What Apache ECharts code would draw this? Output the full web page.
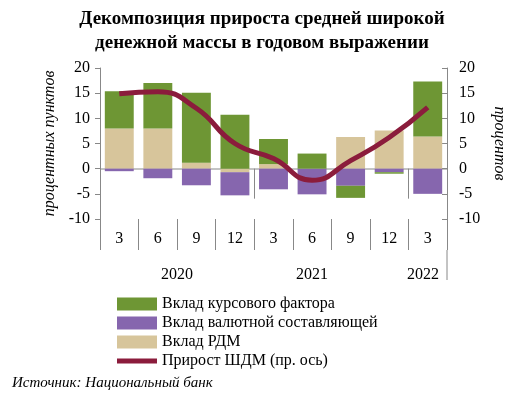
<!DOCTYPE html><html><head><meta charset="utf-8"><script src="https://cdn.jsdelivr.net/npm/echarts@6/dist/echarts.min.js"></script></head><body style="margin:0"><div id="c" style="width:524px;height:404px"></div><script>
const categories=['3','6','9','12','3','6','9','12','3'];
const years=['2020','2021','2022'];
const rdm=[8,8,1.2,-0.7,0.9,0,6.3,7.6,6.4];
const fx=[-0.5,-1.9,-3.3,-4.6,-4.1,-5.1,-3.4,-0.7,-5.0];
const rate=[7.4,9,13.9,10.7,5.0,3,-2.4,-0.3,10.9];
const shdm=[14.9,15.3,12,5,2,-2.3,1.6,6.2,12.2];
const F='Liberation Serif';
const ch=echarts.init(document.getElementById('c'));
const yax=(pos,name)=>({type:'value',position:pos,min:-10,max:20,interval:5,name:name,nameLocation:'middle',nameGap:pos==='left'?40:44,nameRotate:pos==='left'?90:-90,
 nameTextStyle:{fontFamily:F,fontStyle:'italic',fontSize:16,color:'#000'},
 axisLine:{show:true,lineStyle:{color:'#888'}},axisTick:{show:true,inside:pos==='right',length:5,lineStyle:{color:'#888'}},splitLine:{show:false},
 axisLabel:{fontFamily:F,fontSize:16,color:'#000',margin:pos==='left'?10:12}});
ch.setOption({animation:false,
 title:{text:'Декомпозиция прироста средней широкой\nденежной массы в годовом выражении',left:'center',top:2,textStyle:{fontFamily:F,fontWeight:'bold',fontSize:19,lineHeight:24,color:'#000'}},
 grid:{left:100,right:77,top:68,bottom:185},
 legend:{orient:'vertical',left:112,top:291,itemGap:3,itemWidth:40,itemHeight:13,textStyle:{fontFamily:F,fontSize:16,color:'#000'},
  data:[{name:'Вклад курсового фактора',icon:'rect'},{name:'Вклад валютной составляющей',icon:'rect'},{name:'Вклад РДМ',icon:'rect'},{name:'Прирост ШДМ (пр. ось)',icon:'path://M0,4H40V9H0Z',itemStyle:{color:'#8b1c3c'}}]},
 xAxis:[{type:'category',data:categories,position:'bottom',axisLine:{onZero:false,show:false},axisTick:{show:true,length:31,lineStyle:{color:'#888'}},
   axisLabel:{fontFamily:F,fontSize:16,color:'#000',margin:12}},
  {type:'category',data:categories,position:'bottom',offset:31,axisLine:{show:false},axisLabel:{show:false},
   axisTick:{show:true,length:30,interval:(i)=>i===0||i===4||i===8,lineStyle:{color:'#888'}}},
  {type:'category',data:categories,position:'top',show:false}],
 yAxis:[yax('left','процентных пунктов'),yax('right','процентов')],
 graphic:[{type:'line',shape:{x1:100,y1:169,x2:447,y2:169},style:{stroke:'#888',lineWidth:1}},
  {type:'line',shape:{x1:447,y1:250,x2:447,y2:280},style:{stroke:'#888',lineWidth:1}},
  {type:'text',left:12,top:376,style:{text:'Источник: Национальный банк',font:'italic 15px "Liberation Serif"',fill:'#000'}},
  ...years.map((t,i)=>({type:'text',x:[177,312,423][i],y:275,style:{text:t,font:'16px "Liberation Serif"',fill:'#000',textAlign:'center',textVerticalAlign:'middle'}}))],
 series:[
  {name:'Вклад РДМ',type:'bar',stack:'a',data:rdm,barWidth:'75%',itemStyle:{color:'#d7c59b'}},
  {name:'Вклад валютной составляющей',type:'bar',stack:'a',data:fx,itemStyle:{color:'#8666ae'}},
  {name:'Вклад курсового фактора',type:'bar',stack:'a',data:rate,itemStyle:{color:'#6e9634'}},
  {name:'Прирост ШДМ (пр. ось)',type:'line',yAxisIndex:1,data:shdm,smooth:true,symbol:'none',itemStyle:{color:'#8b1c3c'},lineStyle:{color:'#8b1c3c',width:5}}
 ]});
</script></body></html>
